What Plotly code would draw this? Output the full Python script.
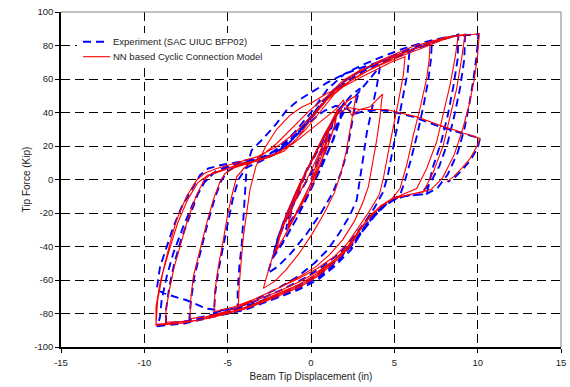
import plotly.graph_objects as go

# ---------------- data ----------------
x_ticks = [-15, -10, -5, 0, 5, 10, 15]
y_ticks = [-100, -80, -60, -40, -20, 0, 20, 40, 60, 80, 100]

series_names = ["Experiment (SAC UIUC BFP02)", "NN based Cyclic Connection Model"]

# NN model (red) – successive cycles as (displacement in, force kip)
red_c1 = [(0,0),(0.55,15),(1.1,31),(0.95,22),(0.6,10),(0.1,-3),(-0.5,-14),(-1.35,-28),(-1.2,-19),(-0.8,-8),(-0.3,4),(0.3,16),(1.15,33),(0.95,24),(0.55,12),(0.0,-2),(-0.6,-15),(-1.4,-29)]
red_c2 = [(-1.25,-20),(-0.85,-9),(-0.3,4),(0.4,18),(1.0,30),(1.55,41),(1.4,32),(1.0,20),(0.4,6),(-0.3,-8),(-1.0,-22),(-1.6,-34),(-2.06,-42),
          (-1.85,-33),(-1.4,-20),(-0.8,-6),(-0.1,8),(0.6,22),(1.2,34),(1.6,42),(1.45,33),(1.05,21),(0.45,7),(-0.25,-8),(-1.0,-23),(-1.65,-35),(-2.1,-43)]
red_c3 = [(-1.9,-33),(-1.4,-19),(-0.8,-5),(0.0,11),(0.8,27),(1.5,39),(2.2,47),(2.7,50),(2.55,42),(2.35,30),(2.1,16),(1.8,4),(1.4,-8),(0.8,-20),(0.1,-32),(-0.7,-44),(-1.5,-54),(-2.2,-61),(-2.86,-65),
          (-2.66,-58),(-2.36,-48),(-2.06,-40),(-1.66,-28),(-1.26,-19),(-0.7,-8),(-0.1,3),(0.5,16),(1.1,30),(1.6,39),(2.2,43),(2.94,41.8),(3.54,43.4),(4.14,49.4),(4.3,51),
          (4.24,47.4),(4.14,37.4),(3.94,23.5),(3.64,7.5),(3.44,-4.4),(3.1,-14),(2.6,-25),(1.9,-36),(1.1,-45),(0.3,-52),(-0.7,-58),(-1.8,-64),(-2.9,-69),(-3.7,-73),(-4.36,-76)]
red_c4 = [(-4.3,-62),(-4.2,-48),(-4.06,-34),(-3.86,-20),(-3.66,-6),(-3.3,8),(-2.7,20),(-2.06,30),(-1.3,38),(-0.6,43),(0.14,46.4),(0.94,51.4),(1.94,55.3),(3.0,61),(4.0,66),(4.8,70),(5.64,73.3),
          (5.54,62.3),(5.24,46.4),(4.94,32.4),(4.64,16.5),(4.34,0.6),(4.1,-9),(3.5,-19),(2.9,-28),(2.2,-38),(1.4,-46),(0.4,-53),(-0.7,-59),(-2.0,-65),(-3.3,-71),(-4.6,-76),(-5.82,-79)]
red_c5 = [(-5.76,-66),(-5.56,-52),(-5.26,-36),(-5.02,-22),(-4.76,-10),(-4.46,1.6),(-4.0,7),(-3.06,13.5),(-2.06,21.5),(-1.06,31.4),(-0.06,41.4),(0.94,49.4),(1.94,59.3),(2.94,65.3),(4.1,70),(5.2,74.5),(6.2,78),(7.14,81.3),
          (7.1,72.3),(6.94,60.3),(6.54,42.4),(6.14,26.5),(5.74,8.5),(5.34,-5.4),(4.9,-11),(4.3,-15),(3.6,-21),(2.9,-30),(2.2,-40),(1.4,-48),(0.4,-55),(-0.7,-61),(-2.0,-67),(-3.5,-73),(-5.0,-78.5),(-6.3,-82),(-7.26,-83)]
red_c6 = [(-7.22,-72),(-7.06,-58),(-6.66,-42),(-6.26,-26),(-5.86,-12),(-5.46,-1.4),(-5.16,3.6),(-4.6,7),(-3.6,10),(-2.6,13),(-1.6,17),(-0.8,25),(0,36),(0.9,47),(1.9,56),(3,63),(4.2,68.5),(5.5,74),(6.8,79),(7.8,83),(8.84,86.2),
          (8.64,72.3),(8.34,56.3),(7.94,38.4),(7.54,22.5),(6.94,6.6),(6.34,-5.4),(5.6,-8.5),(4.9,-11.5),(4.2,-16),(3.5,-23),(2.8,-32),(2.1,-42),(1.2,-50),(0.3,-56.5),(-0.7,-62.5),(-2.2,-69),(-3.7,-75.5),(-5.2,-80),(-6.7,-84),(-8.0,-85),(-8.7,-85.1)]
red_c7 = [(-8.7,-78),(-8.5,-66),(-8.2,-52),(-7.8,-38),(-7.4,-24),(-6.9,-10),(-6.4,0),(-5.9,4),(-5.2,6),(-4.2,9),(-3.1,12),(-2.0,16),(-1.1,22),(-0.3,30),(0.5,40),(1.4,51),(2.4,59),(3.6,66),(5,73),(6.3,78.5),(7.6,83),(8.5,85.5),(9.24,86.6),
          (9.04,72.3),(8.74,54.3),(8.34,36.5),(7.94,20.5),(7.34,4.5),(6.74,-7.4),(5.9,-9),(5.0,-11),(4.2,-15.5),(3.5,-22.5),(2.9,-30),(2.3,-39.5),(1.3,-49.5),(0.3,-57.5),(-0.7,-63.5),(-2.3,-70),(-3.7,-76),(-5.7,-81),(-6.7,-84),(-8.3,-85.7),(-9.3,-86.5)]
red_c8 = [(-9.3,-76),(-9.06,-62),(-8.76,-50),(-8.46,-38),(-8.06,-24),(-7.46,-10),(-6.86,-0.4),(-6.36,3.9),(-5.66,6.6),(-4.66,9.6),(-3.26,13.5),(-2.06,19.5),(-1.06,27),(-0.06,37),(0.94,48),(1.94,58),(2.94,64.5),(4.14,71),(6.14,79.5),(8.14,85),(10.1,87),
          (10.0,75),(9.8,60),(9.5,45),(9.1,30),(8.6,15),(7.9,1),(7.2,-6),(6.14,-8.4),(4.94,-11.4),(4.14,-16.4),(3.54,-22.3),(2.94,-30.3),(2.34,-40.3),(1.34,-50.2),(0.34,-58.2),(-0.66,-64.2),(-2.3,-71),(-4.0,-77.5),(-6.0,-82.5),(-7.8,-86),(-9.3,-87)]
red_c9 = [(-9.2,-72),(-8.9,-56),(-8.5,-42),(-8.0,-26),(-7.4,-12),(-6.8,-2),(-6.2,2.5),(-5.4,5),(-4.26,9.6),(-3.06,11.5),(-2.06,15.5),(-1.06,21.5),(-0.06,29.5),(0.94,37.4),(1.5,42),(1.94,47.4),(2.2,43),(2.44,38.4),(2.94,41.8),(3.64,41.8),(4.54,41.8),(6.34,37.4),(7.74,32.4),(10.14,24.5),(9.94,19.5),(9.54,12.5),(9.04,6.6),(8.54,1.6),(8.14,-1.4)]

# Experiment (blue dashed)
blue_c1 = [(0,0),(0.6,16),(1.2,32),(1.05,23),(0.7,12),(0.15,-2),(-0.5,-14),(-1.3,-26),(-1.15,-17),(-0.75,-6),(-0.2,6),(0.5,19),(1.3,34),(1.1,24),(0.7,12),(0.1,-3),(-0.6,-16),(-1.5,-30)]
blue_c2 = [(-1.3,-20),(-0.8,-8),(-0.2,6),(0.5,20),(1.2,33),(1.9,44),(1.7,35),(1.25,22),(0.6,7),(-0.2,-10),(-0.9,-24),(-1.6,-36),(-2.2,-45),
           (-2.0,-35),(-1.5,-22),(-0.9,-8),(-0.2,7),(0.6,22),(1.3,35),(2.0,46),(1.8,37),(1.35,24),(0.7,9),(-0.1,-8),(-0.9,-24),(-1.7,-38),(-2.3,-47)]
blue_c3 = [(-2.1,-38),(-1.6,-24),(-0.9,-8),(0.0,10),(0.9,28),(1.7,42),(2.4,50),(2.94,54.4),(2.74,47.4),(2.54,38.4),(2.34,27.5),(2.14,15.5),(1.8,4),(1.3,-8),(0.6,-20),(-0.3,-33),(-1.2,-44),(-2.0,-52),(-2.6,-56),
           (-2.3,-46),(-1.9,-34),(-1.4,-22),(-0.8,-10),(-0.1,2),(0.7,17),(1.5,32),(2.2,44),(3.0,54),(3.6,61),(4.14,67.3),(3.94,55.3),(3.64,41.4),(3.34,27.5),(3.14,13.5),(2.94,-0.4),(2.74,-12.4),(2.3,-22),(1.7,-32),(1.0,-42),(0.2,-50),(-0.8,-58),(-2.0,-65),(-3.2,-71),(-4.4,-77)]
blue_c4 = [(-4.4,-66),(-4.3,-52),(-4.15,-38),(-4.05,-22),(-3.96,-2.4),(-3.86,7.5),(-3.56,17.5),(-2.86,24.5),(-2.06,33.5),(-1.46,41.4),(-0.8,47),(0,52),(1.0,58),(2.0,63),(3.1,67),(4.2,70.5),(5.0,73),(5.9,75.5),
           (5.8,64),(5.5,48),(5.2,33),(4.9,17),(4.6,2),(4.3,-8),(3.8,-17),(3.2,-26),(2.5,-35),(1.7,-44),(0.7,-52),(-0.4,-59),(-1.8,-66),(-3.2,-72),(-4.6,-77),(-5.82,-79.5)]
blue_c5 = [(-5.75,-68),(-5.55,-54),(-5.25,-38),(-4.95,-24),(-4.7,-12),(-4.35,0),(-3.9,7),(-3.0,11),(-2.0,16),(-1.1,24),(-0.3,34),(0.5,44),(1.3,53),(2.2,60),(3.2,66),(4.3,71),(5.5,75.5),(6.4,79),(7.25,82),
           (7.2,72),(7.05,60),(6.75,44),(6.4,28),(6.0,12),(5.6,-2),(5.34,-9.4),(4.7,-13),(4.0,-19),(3.3,-27),(2.6,-37),(1.8,-46),(0.8,-54),(-0.3,-61),(-1.8,-68),(-3.4,-74),(-5.0,-79),(-6.4,-82),(-7.3,-83.5)]
blue_c6 = [(-7.2,-72),(-7.0,-58),(-6.6,-42),(-6.2,-26),(-5.8,-12),(-5.4,-1),(-5.0,5),(-4.3,9),(-3.3,11.5),(-2.3,15),(-1.4,21),(-0.5,30),(0.3,40),(1.2,51),(2.2,59),(3.4,66),(4.6,71),(6.0,77),(7.4,82),(8.84,86.5),
           (8.8,72),(8.55,56),(8.2,38),(7.8,22),(7.3,7),(6.94,-8.8),(6.0,-9.2),(5.2,-11),(4.5,-15),(3.8,-22),(3.1,-31),(2.4,-40),(1.5,-49),(0.5,-57),(-0.6,-63),(-2.0,-70),(-3.8,-76),(-5.4,-80),(-7.0,-84),(-8.7,-86)]
blue_c7 = [(-8.7,-78),(-8.5,-64),(-8.2,-50),(-7.8,-36),(-7.3,-22),(-6.8,-9),(-6.3,0),(-5.7,5),(-4.9,8.5),(-3.9,11),(-2.8,14),(-1.8,19),(-0.9,27),(0,37),(0.9,48),(1.9,58),(3,65),(4.3,71),(5.7,77),(7,81.5),(8.2,85),(9.24,86.5),
           (9.2,72),(8.95,55),(8.6,38),(8.2,22),(7.7,8),(7.1,-3),(6.5,-9),(5.6,-10),(4.9,-12.5),(4.2,-17.5),(3.6,-24),(3.0,-32),(2.4,-42),(1.4,-52),(0.4,-60),(-0.8,-66),(-2.4,-72),(-4,-78),(-5.9,-82),(-7.6,-86),(-9.2,-87.5)]
blue_c8 = [(-9.06,-82),(-8.96,-72),(-8.66,-58),(-8.26,-44),(-7.66,-28),(-7.06,-14),(-6.46,-2.4),(-5.86,3.6),(-5.0,7),(-4.0,10),(-2.9,13),(-1.9,19),(-1.0,28),(0,40),(1.0,54),(2.0,63),(3.0,68),(4.2,73),(5.5,78),(6.8,82),(8.2,85.2),(10.04,86.8),
           (9.95,75),(9.75,60),(9.5,45),(9.2,30),(8.8,16),(8.2,3),(7.6,-5),(6.9,-8.8),(6.0,-9.5),(5.3,-10.5),(4.6,-14),(3.9,-19),(3.3,-27),(2.7,-36),(1.8,-47),(0.8,-56),(-0.4,-63),(-1.9,-70),(-3.5,-75.5),(-5.46,-78.1),(-6.26,-77.1),(-7.46,-72.1),(-8.46,-69.1),(-9.26,-66.1)]
blue_c9 = [(-9.06,-52.2),(-8.66,-40.3),(-8.26,-28.3),(-7.76,-16.4),(-7.26,-7.4),(-6.66,2.6),(-6.16,6.6),(-5.46,8.5),(-4.66,9.9),(-3.66,11.9),(-2.7,14),(-1.8,19),(-0.9,27),(0,35),(0.8,41),(1.5,44),(2.2,42),(2.6,39),(3.2,41),(4.1,41.4),(4.74,40.8),(6.14,37.4),(7.74,31.5),(10.14,24.5),(10.0,19),(9.6,12),(9.1,6),(8.6,1),(8.2,-1.5)]

red_cycles = [red_c1, red_c2, red_c3, red_c4, red_c5, red_c6, red_c7, red_c8, red_c9]
blue_cycles = [blue_c1, blue_c2, blue_c3, blue_c4, blue_c5, blue_c6, blue_c7, blue_c8, blue_c9]


def flatten(cycles):
    xs, ys = [], []
    for c in cycles:
        for px, py in c:
            xs.append(px)
            ys.append(py)
    return xs, ys


bx, by = flatten(blue_cycles)
rx, ry = flatten(red_cycles)

FONT = "Arial, Liberation Sans, sans-serif"
BLUE = "#0000FF"
RED = "#FF0000"
BLUE_DASH = "8px,5px"

fig = go.Figure()
fig.add_trace(go.Scatter(x=bx, y=by, mode="lines", name=series_names[0], showlegend=False,
                         line=dict(color=BLUE, width=1.9, dash=BLUE_DASH)))
fig.add_trace(go.Scatter(x=rx, y=ry, mode="lines", name=series_names[1], showlegend=False,
                         line=dict(color=RED, width=1.1)))

grid = dict(showgrid=True, gridcolor="#000000", gridwidth=1, griddash="9px,5px", zeroline=False,
            automargin=False)

fig.update_xaxes(range=[-15, 15], tickvals=x_ticks, ticktext=[str(v) for v in x_ticks],
                 showline=True, linecolor="#000000", linewidth=1.5, ticks="outside", ticklen=4,
                 tickcolor="#000000", tickfont=dict(family=FONT, size=9.5, color="#222"),
                 ticklabelstandoff=2,
                 title=dict(text="Beam Tip Displacement (in)", font=dict(family=FONT, size=10, color="#222"), standoff=6),
                 **grid)
fig.update_yaxes(range=[-100, 100], tickvals=y_ticks, ticktext=[str(v) for v in y_ticks],
                 showline=True, linecolor="#000000", linewidth=1.5, ticks="outside", ticklen=4,
                 tickcolor="#000000", tickfont=dict(family=FONT, size=9.5, color="#222"),
                 title=dict(text="Tip Force (Kip)", font=dict(family=FONT, size=10, color="#222"), standoff=2),
                 **grid)

# grey frame on the top and right sides
fig.add_shape(type="line", xref="paper", yref="paper", x0=0, x1=1, y0=1, y1=1,
              line=dict(color="#808080", width=1), layer="above")
fig.add_shape(type="line", xref="paper", yref="paper", x0=1, x1=1, y0=0, y1=1,
              line=dict(color="#808080", width=1), layer="above")

# legend (drawn inside the plot, top-left)
PL, PW, PT, PH = 61, 500, 12, 335
def px2paper(px, py):
    return (px - PL) / PW, (PT + PH - py) / PH

bx0, by0 = px2paper(77, 33)
bx1, by1 = px2paper(268, 65)
fig.add_shape(type="rect", xref="paper", yref="paper", x0=bx0, x1=bx1, y0=by1, y1=by0,
              fillcolor="white", line=dict(width=0), layer="above")
legend_rows = [(41.7, BLUE, BLUE_DASH, 1.9, 83, 107), (56.7, RED, "solid", 1.1, 83, 110)]
for (row_y, col, dash, w, lx0, lx1), name in zip(legend_rows, series_names):
    ax0, ay = px2paper(lx0, row_y)
    ax1, _ = px2paper(lx1, row_y)
    fig.add_shape(type="line", xref="paper", yref="paper", x0=ax0, x1=ax1, y0=ay, y1=ay,
                  line=dict(color=col, width=w, dash=dash), layer="above")
    tx, _ = px2paper(112, row_y)
    fig.add_annotation(x=tx, y=ay, xref="paper", yref="paper", text=name, showarrow=False,
                       xanchor="left", yanchor="middle", xshift=-1,
                       font=dict(family=FONT, size=9.5, color="#222"))

fig.update_layout(
    width=570, height=387,
    margin=dict(l=PL, r=570 - PL - PW, t=PT, b=387 - PT - PH, autoexpand=False),
    paper_bgcolor="white", plot_bgcolor="white",
    showlegend=False,
)

fig.write_html("out.html", config={"displayModeBar": False},
               post_script="document.body.style.margin='0';")
